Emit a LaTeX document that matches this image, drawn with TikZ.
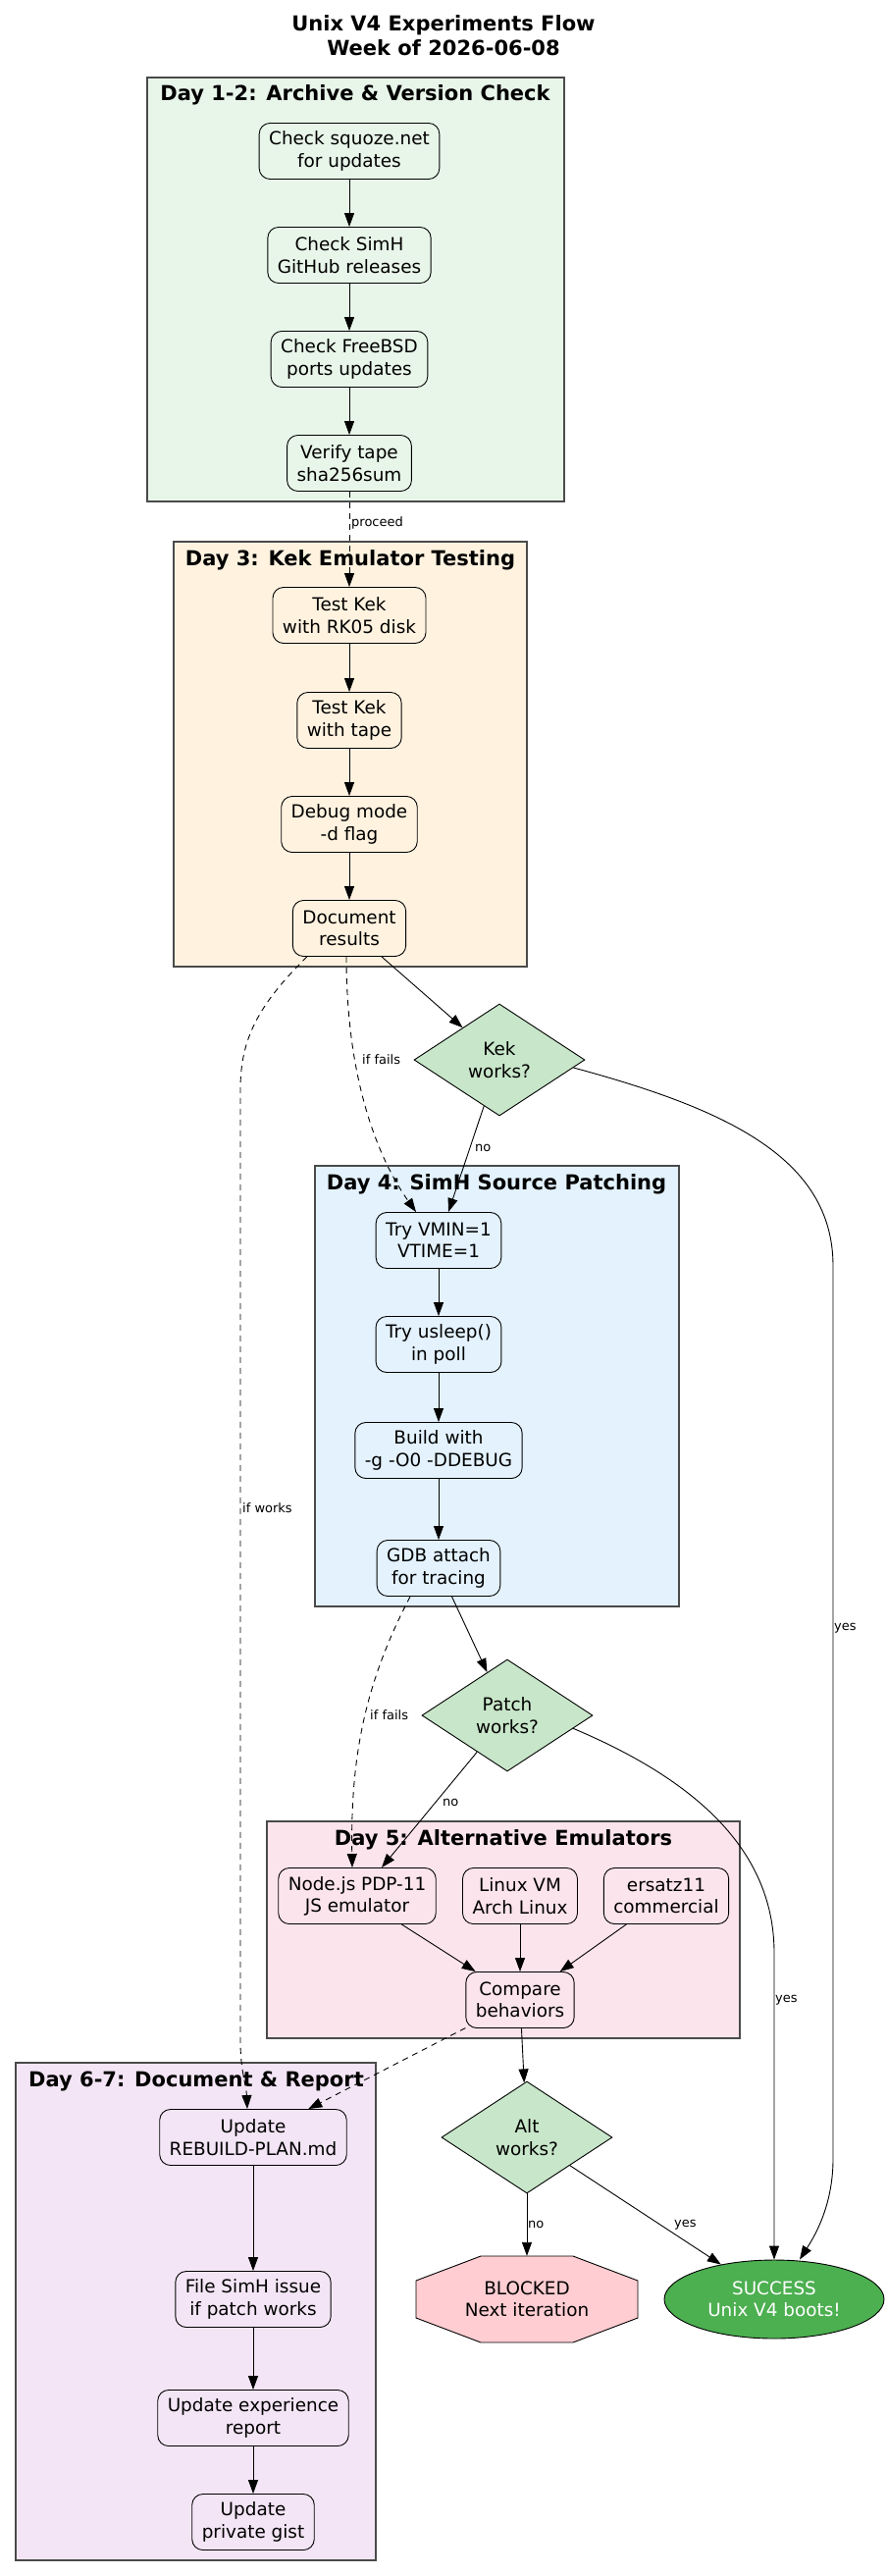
\documentclass[tikz,border=0pt]{standalone}
\usepackage{fontspec}
\setmainfont{DejaVu Sans}
\usetikzlibrary{arrows.meta,shapes.geometric}
\definecolor{cA}{HTML}{E8F5E9}
\definecolor{cB}{HTML}{FFF3E0}
\definecolor{cC}{HTML}{E3F2FD}
\definecolor{cD}{HTML}{FCE4EC}
\definecolor{cE}{HTML}{F3E5F5}
\definecolor{dgreen}{HTML}{C8E6C9}
\definecolor{bpink}{HTML}{FFCDD2}
\definecolor{sgreen}{HTML}{4CAF50}
\definecolor{clusgray}{HTML}{4A4A4A}
\newcommand\nodefont{\fontsize{18.4}{22.3}\selectfont}
\newcommand\ctfont{\fontsize{21}{25}\selectfont\bfseries}
\newcommand\lblfont{\fontsize{13}{15}\selectfont}
\begin{document}
\begin{tikzpicture}[x=1pt,y=-1pt,
  box/.style={draw, rounded corners=11pt, line width=0.9pt, align=center, font=\nodefont, inner xsep=10pt, inner ysep=2pt, minimum height=57pt},
  clus/.style={draw=clusgray, line width=1.4pt},
  ctitle/.style={font=\ctfont, inner sep=0pt},
  arr/.style={-{Triangle[length=14pt,width=10pt]}, line width=0.9pt},
  dsh/.style={arr, dash pattern=on 6pt off 5pt},
  lbl/.style={font=\lblfont, anchor=west, inner sep=0pt},
  dia/.style={diamond, draw, fill=dgreen, align=center, font=\nodefont, inner sep=1pt, minimum width=174pt, minimum height=114pt, line width=0.9pt}]
\useasboundingbox (0,0) rectangle (903,2625);
\fill[white] (0,0) rectangle (903,2625);

% title
\node[font=\ctfont, align=center, inner sep=0pt] (title) at (452,36) {Unix V4 Experiments Flow\\Week of 2026-06-08};

% clusters
\draw[clus, fill=cA] (150,79) rectangle (575,511);
\node[ctitle] (t1) at (362,97) {Day 1-2: Archive \& Version Check};
\draw[clus, fill=cB] (177,552) rectangle (537,985);
\node[ctitle] (t2) at (357,571) {Day 3: Kek Emulator Testing};
\draw[clus, fill=cC] (321,1188) rectangle (692,1637);
\node[ctitle] (t3) at (506,1207) {Day 4: SimH Source Patching};
\draw[clus, fill=cD] (272,1856) rectangle (754,2077);
\node[ctitle] (t4) at (513,1875) {Day 5: Alternative Emulators};
\draw[clus, fill=cE] (16,2102) rectangle (383,2609);
\node[ctitle] (t5) at (200,2121) {Day 6-7: Document \& Report};

% day 1-2
\node[box, fill=cA] (n1) at (356,154) {Check squoze.net\\for updates};
\node[box, fill=cA] (n2) at (356,260) {Check SimH\\GitHub releases};
\node[box, fill=cA] (n3) at (356,366) {Check FreeBSD\\ports updates};
\node[box, fill=cA] (n4) at (356,472) {Verify tape\\sha256sum};
% day 3
\node[box, fill=cB] (k1) at (356,627) {Test Kek\\with RK05 disk};
\node[box, fill=cB] (k2) at (356,734) {Test Kek\\with tape};
\node[box, fill=cB] (k3) at (356,840) {Debug mode\\-d flag};
\node[box, fill=cB] (doc) at (356,946) {Document\\results};
\node[dia] (kek) at (509,1080) {Kek\\works?};
% day 4
\node[box, fill=cC] (vmin) at (447,1264) {Try VMIN=1\\VTIME=1};
\node[box, fill=cC] (usleep) at (447,1370) {Try usleep()\\in poll};
\node[box, fill=cC] (build) at (447,1478) {Build with\\-g -O0 -DDEBUG};
\node[box, fill=cC] (gdb) at (447,1598) {GDB attach\\for tracing};
\node[dia] (patch) at (517,1748) {Patch\\works?};
% day 5
\node[box, fill=cD] (nodejs) at (364,1932) {Node.js PDP-11\\JS emulator};
\node[box, fill=cD] (linux) at (530,1932) {Linux VM\\Arch Linux};
\node[box, fill=cD] (ersatz) at (679,1932) {ersatz11\\commercial};
\node[box, fill=cD] (compare) at (530,2038) {Compare\\behaviors};
\node[dia] (alt) at (537,2178) {Alt\\works?};
% day 6-7
\node[box, fill=cE] (update1) at (258,2178) {Update\\REBUILD-PLAN.md};
\node[box, fill=cE] (file) at (258,2343) {File SimH issue\\if patch works};
\node[box, fill=cE] (exp) at (258,2464) {Update experience\\report};
\node[box, fill=cE] (gist) at (258,2570) {Update\\private gist};
% outcomes
\draw[line width=0.9pt, fill=bpink] (490,2299) -- (584,2299) -- (650,2324) -- (650,2362) -- (584,2387) -- (490,2387) -- (424,2362) -- (424,2324) -- cycle;
\node[font=\nodefont, align=center, minimum width=226pt, minimum height=88pt, inner sep=0pt] (blocked) at (537,2343) {BLOCKED\\Next iteration};
\node[ellipse, draw, line width=0.9pt, fill=sgreen, text=white, minimum width=224pt, minimum height=80pt, inner sep=0pt, align=center, font=\nodefont] (success) at (789,2343) {SUCCESS\\Unix V4 boots!};

% edges day 1-2
\draw[arr] (n1) -- (n2);
\draw[arr] (n2) -- (n3);
\draw[arr] (n3) -- (n4);
\draw[dsh] (n4) -- (k1);
\node[lbl] (lproceed) at (358,533) {proceed};
% day 3
\draw[arr] (k1) -- (k2);
\draw[arr] (k2) -- (k3);
\draw[arr] (k3) -- (doc);
\draw[arr] (doc) -- (kek);
\draw[dsh] ([xshift=-3pt]doc.south) .. controls (353,1100) and (385,1180) .. ([xshift=-23pt]vmin.north);
\node[lbl] (lif1) at (369,1080) {if fails};
\draw[dsh] ([xshift=15pt]doc.south west) .. controls (262,1025) and (245,1060) .. (245,1110) -- (245,2080) .. controls (245,2110) and (251,2125) .. ([xshift=-6pt]update1.north);
\node[lbl] (lifw) at (247,1537) {if works};
\draw[arr] (kek) -- ([xshift=10pt]vmin.north);
\node[lbl] (lno1) at (484,1170) {no};
\draw[arr] ([xshift=-12pt,yshift=-8pt]kek.east) .. controls (740,1130) and (849,1180) .. (849,1290) -- (849,2200) .. controls (849,2250) and (828,2282) .. ([xshift=26pt]success.north);
\node[lbl] (lyes1) at (850,1659) {yes};
% day 4
\draw[arr] (vmin) -- (usleep);
\draw[arr] (usleep) -- (build);
\draw[arr] (build) -- (gdb);
\draw[arr] (gdb) -- (patch);
\draw[dsh] ([xshift=-29pt]gdb.south) .. controls (372,1715) and (357,1790) .. ([xshift=-5pt]nodejs.north);
\node[lbl] (lif2) at (377,1748) {if fails};
\draw[arr] (patch) -- ([xshift=25pt]nodejs.north);
\node[lbl] (lno2) at (451,1837) {no};
\draw[arr] ([xshift=-21pt,yshift=-13pt]patch.east) .. controls (700,1810) and (789,1880) .. (789,1990) -- (success.north);
\node[lbl] (lyes2) at (790,2038) {yes};
% day 5
\draw[arr] (nodejs) -- (compare);
\draw[arr] (linux) -- (compare);
\draw[arr] (ersatz) -- (compare);
\draw[arr] (compare) -- (alt);
\draw[dsh] (compare) -- (update1);
\draw[arr] (alt) -- (blocked);
\node[lbl] (lno3) at (538,2267) {no};
\draw[arr] (alt) -- (success);
\node[lbl] (lyes3) at (687,2267) {yes};
% day 6-7
\draw[arr] (update1) -- (file);
\draw[arr] (file) -- (exp);
\draw[arr] (exp) -- (gist);
\end{tikzpicture}
\end{document}
